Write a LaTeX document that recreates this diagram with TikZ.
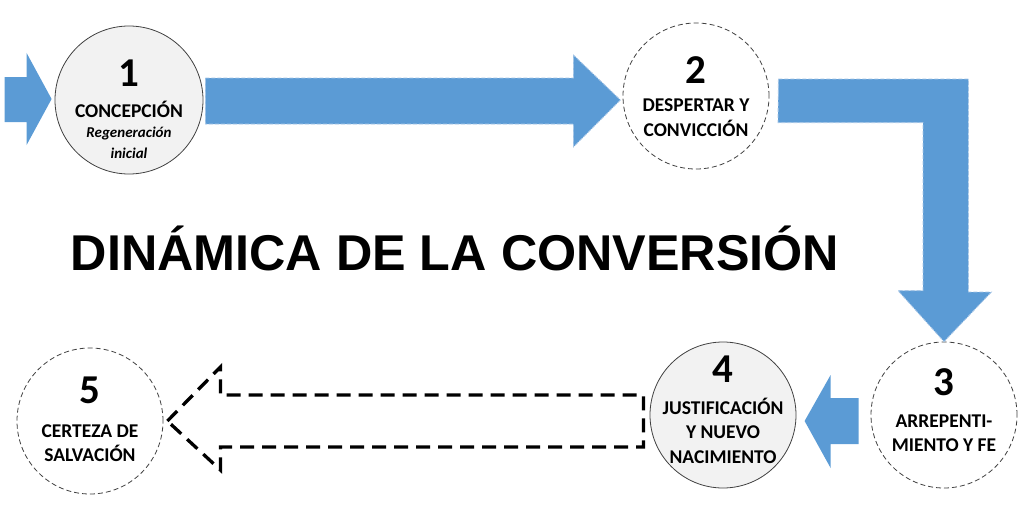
\documentclass[tikz,border=0pt]{standalone}
\usepackage{fontspec}
\setmainfont{Carlito}
\newfontfamily\titlefont{Liberation Sans}
\usepackage{tikz}
\usetikzlibrary{calc}
\definecolor{arrowblue}{HTML}{5B9BD5}
\definecolor{edgeblue}{HTML}{A7C6E6}
\definecolor{circgray}{HTML}{F2F2F2}
\newcommand{\numsize}{\fontsize{41}{41}\selectfont}
\newcommand{\subsize}{\itshape\fontsize{15}{20}\selectfont}

\begin{document}
\begin{tikzpicture}[x=1pt, y=-1pt,
    stage/.style={circle, minimum size=146pt, inner sep=0pt, draw=black!75, line width=0.8pt},
    stagedash/.style={stage, fill=white, dash pattern=on 5pt off 3pt},
    stagefill/.style={stage, fill=circgray},
    stagetext/.style={align=center, inner sep=0pt, anchor=north, font=\bfseries\fontsize{19.5}{24}\selectfont},
    blockarrow/.style={fill=arrowblue},
    blockedge/.style={blockarrow, draw=edgeblue, line width=0.8pt, dash pattern=on 4pt off 2pt},
    openarrow/.style={draw=black, line width=3.3pt, dash pattern=on 14pt off 8pt}]
    \useasboundingbox (0,0) rectangle (1027,511);

%stages
    \node[stagefill, minimum size=148pt] (c1) at (129,100) {};
    \node[stagedash] (c2) at (696,96) {};
    \node[stagedash] (c3) at (944,415) {};
    \node[stagefill] (c4) at (723,415) {};
    \node[stagedash] (c5) at (90,421) {};

    \node[stagetext] (t1) at ($(c1.north)+(0,34)$) {{\numsize 1}\\[7pt] CONCEPCIÓN\\[-4pt] {\subsize Regeneración}\\[-3pt] {\subsize inicial}};
    \node[stagetext] (t2) at ($(c2.north)+(0,34)$) {{\numsize 2}\\[4pt] DESPERTAR Y\\[1pt] CONVICCIÓN};
    \node[stagetext] (t3) at ($(c3.north)+(0,27)$) {{\numsize 3}\\[8pt] ARREPENTI-\\ MIENTO Y FE};
    \node[stagetext] (t4) at ($(c4.north)+(0,14)$) {{\numsize 4}\\[8pt] JUSTIFICACIÓN\\ Y NUEVO\\[1pt] NACIMIENTO};
    \node[stagetext] (t5) at ($(c5.north)+(0,29)$) {{\numsize 5}\\[10pt] CERTEZA DE\\ SALVACIÓN};

%title
    \node[anchor=base, inner sep=0pt, font=\titlefont\bfseries\fontsize{50.3}{50}\selectfont] (title) at (455,270) {DINÁMICA DE LA CONVERSIÓN};

%arrows
    \fill[blockarrow] ($(c1.west)+(-3,-1)$) -- ++(-25,-46) -- ++(0,24) -- ++(-22,0) -- ++(0,45) -- ++(22,0) -- ++(0,23) -- cycle;
    \draw[blockedge] ($(c1.east)+(2,-22)$) -- ++(368,0) -- ++(0,-23) -- ++(47,45) -- ++(-47,47) -- ++(0,-23) -- ++(-368,0) -- cycle;
    \draw[blockedge] ($(c2.east)+(9,-17)$) -- ++(190,0) -- ++(0,213) -- ++(23,0) -- (c3.north) -- ++(-46,-51) -- ++(25,0) -- ++(0,-168) -- ++(-145,0) -- cycle;
    \fill[blockarrow] ($(c3.west)+(-12,-17)$) -- ++(-28,0) -- ++(0,-23) -- ++(-26,46) -- ++(26,47) -- ++(0,-24) -- ++(28,0) -- cycle;
    \draw[openarrow] ($(c5.east)+(4,0)$) -- ++(53,-54) -- ++(0,28) -- ++(423,0) -- ++(0,52) -- ++(-423,0) -- ++(0,23) -- cycle;
\end{tikzpicture}
\end{document}
